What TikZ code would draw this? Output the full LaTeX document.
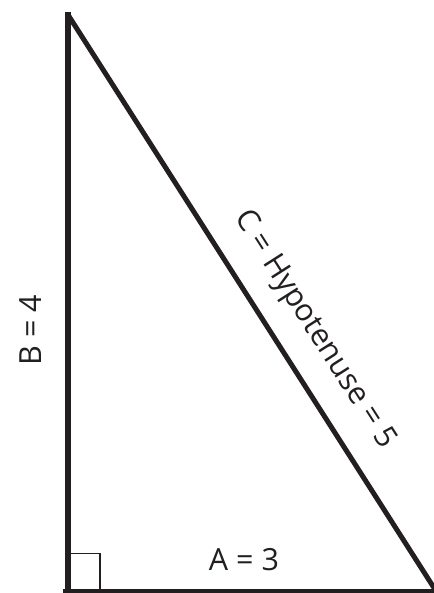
\documentclass[tikz,border=0pt]{standalone}
\usepackage{fontspec}
\setmainfont{Open Sans}
\usepackage{xcolor}
\usepackage{tikz}
\usetikzlibrary{calc}
\definecolor{ink}{HTML}{231F20}

\begin{document}
\begin{tikzpicture}[x=1pt,y=1pt,font=\fontsize{30.5}{36}\selectfont,
  side/.style={draw=ink,line width=5pt,line cap=butt},
  lbl/.style={inner sep=0pt,text=ink}]
\useasboundingbox (0,0) rectangle (433,593);
\coordinate (top) at (67.5,579);
\coordinate (bl) at (67.5,2);
\coordinate (br) at (436,2);
\draw[side,line width=6pt] ($(top)+(0,2)$) -- (bl);
\draw[side,line width=4.5pt] ($(bl)+(-4.5,0)$) -- (br);
\draw[side] (top) -- (br);
\draw[ink,line width=1.6pt] (70.5,39.5) -| (100,4);
\node[lbl] (lblA) at (244,33) {A = 3};
\node[lbl,rotate=90] (lblB) at (31,263) {B = 4};
\node[lbl,rotate=-57.4] (lblC) at ($(top)!0.583!(br)!38pt!90:(br)$) {C = Hypotenuse = 5};
\end{tikzpicture}
\end{document}
